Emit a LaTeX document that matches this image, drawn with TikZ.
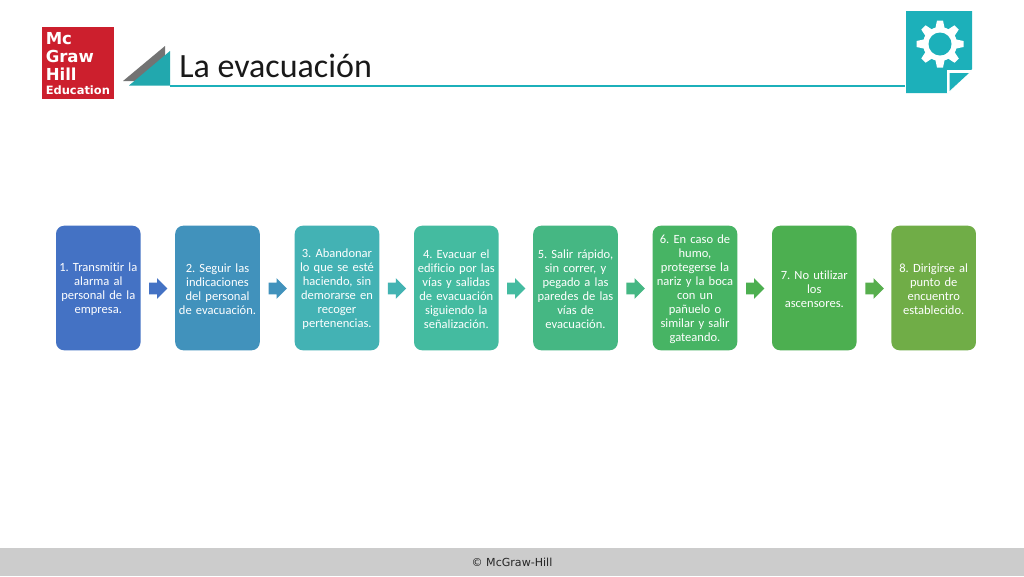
\documentclass[tikz,border=0pt]{standalone}
\usepackage{fontspec}
\setmainfont[Ligatures=NoCommon]{Carlito}
\newfontfamily\logofont{DejaVu Sans}
\newfontfamily\footfont{DejaVu Sans}
\usetikzlibrary{shapes.arrows}
\definecolor{c1}{HTML}{4472C4}
\definecolor{c2}{HTML}{4192BC}
\definecolor{c3}{HTML}{43B2B4}
\definecolor{c4}{HTML}{44BBA0}
\definecolor{c5}{HTML}{45B783}
\definecolor{c6}{HTML}{47B464}
\definecolor{c7}{HTML}{4CAF50}
\definecolor{c8}{HTML}{70AD47}
\definecolor{teal1}{HTML}{1CB0BA}
\definecolor{titlerule}{HTML}{1CB0BA}
\definecolor{tealtri}{HTML}{22A8AE}
\definecolor{mhred}{HTML}{CC1F2D}
\tikzset{
  px/.style={x=0.75pt,y=-0.75pt},
  stepbox/.style={rounded corners=6pt,minimum width=63.4pt,minimum height=93.4pt,inner sep=0pt,text width=63pt,align=center,text=white,font=\fontsize{9.4pt}{10.55pt}\selectfont,anchor=center,execute at begin node={\leavevmode\rule{0pt}{8.6pt}}},
  flowarrow/.style={single arrow,single arrow head extend=3.25pt,single arrow tip angle=90,shape border rotate=0,minimum width=15pt,minimum height=13.8pt,inner ysep=4.25pt,inner xsep=0pt,anchor=center,draw=none},
  logotext/.style={text=white,anchor=west,inner sep=0pt}
}
\begin{document}
\begin{tikzpicture}[px]
\frenchspacing
\useasboundingbox (0,0) rectangle (1024,576);
\fill[white] (0,0) rectangle (1024,576);
% footer
\fill[black!20!white] (0,548) rectangle (1024,576);
\node[font=\footfont\fontsize{8.3pt}{11pt}\selectfont,inner sep=0pt,text=black!85] (foot) at (512,562) {© McGraw-Hill};
% logo
\fill[mhred] (42,27) rectangle (114,99);
\node[logotext,font=\logofont\bfseries\fontsize{12.4pt}{13pt}\selectfont] (l1) at (45.5,39) {Mc};
\node[logotext,font=\logofont\bfseries\fontsize{12.4pt}{13pt}\selectfont] (l2) at (45.5,56.5) {Graw};
\node[logotext,font=\logofont\bfseries\fontsize{12.4pt}{13pt}\selectfont] (l3) at (45.5,74) {Hill};
\node[logotext,font=\logofont\bfseries\fontsize{8.6pt}{9pt}\selectfont] (l4) at (45.5,90.5) {Education};
% title ornament
\fill[black!55] (123,81) -- (165,46) -- (165,81) -- cycle;
\fill[tealtri] (129,85.5) -- (170,51) -- (170,85.5) -- cycle;
\draw[draw=titlerule,line width=1.5pt] (170,85.5) -- (905,85.5);
\node[anchor=west,inner sep=0pt,font=\fontsize{25.5pt}{28pt}\selectfont,text=black!90] (title) at (179,66) {La evacuación};
% doc icon
\fill[teal1] (906,11) -- (972,11) -- (972,69) -- (948,93) -- (906,93) -- cycle;
\fill[white] (947,70) -- (972,70) -- (948,93.5) -- (947,93.5) -- cycle;
\fill[teal1] (949.5,73) -- (969,73) -- (949.5,91) -- cycle;
\begin{scope}[shift={(940,44)}]
  \foreach \a in {0,45,...,315}{
    \fill[white,rotate=\a] (-3,-23.5) -- (3,-23.5) -- (5,-14) -- (-5,-14) -- cycle;
  }
  \fill[white] (0,0) circle (17);
  \fill[teal1] (0,0) circle (11.5);
\end{scope}
% boxes
\node[stepbox,fill=c1] (b1) at (98.3,288) {1. Transmitir la\\alarma al\\personal de la\\empresa.};
\node[stepbox,fill=c2] (b2) at (217.5,288) {2. Seguir las\\indicaciones\\del personal\\de evacuación.};
\node[stepbox,fill=c3] (b3) at (337,288) {3. Abandonar\\lo que se esté\\haciendo, sin\\demorarse en\\recoger\\pertenencias.};
\node[stepbox,fill=c4] (b4) at (456.3,288) {4. Evacuar el\\edificio por las\\vías y salidas\\de evacuación\\siguiendo la\\señalización.};
\node[stepbox,fill=c5] (b5) at (575.5,288) {5. Salir rápido,\\sin correr, y\\pegado a las\\paredes de las\\vías de\\evacuación.};
\node[stepbox,fill=c6] (b6) at (695,288) {6. En caso de\\humo,\\protegerse la\\nariz y la boca\\con un\\pañuelo o\\similar y salir\\gateando.};
\node[stepbox,fill=c7] (b7) at (814.3,288) {7. No utilizar\\los\\ascensores.};
\node[stepbox,fill=c8] (b8) at (933.7,288) {8. Dirigirse al\\punto de\\encuentro\\establecido.};
% arrows
\node[flowarrow,fill=c1] (a1) at (155.3,288.5) {};
\node[flowarrow,fill=c2] (a2) at (274.8,288.5) {};
\node[flowarrow,fill=c3!90!c4] (a3) at (394,288.5) {};
\node[flowarrow,fill=c4] (a4) at (513.3,288.5) {};
\node[flowarrow,fill=c5] (a5) at (632.6,288.5) {};
\node[flowarrow,fill=c7] (a6) at (752.3,288.5) {};
\node[flowarrow,fill=c7!70!c8] (a7) at (871.6,288.5) {};
\end{tikzpicture}
\end{document}
